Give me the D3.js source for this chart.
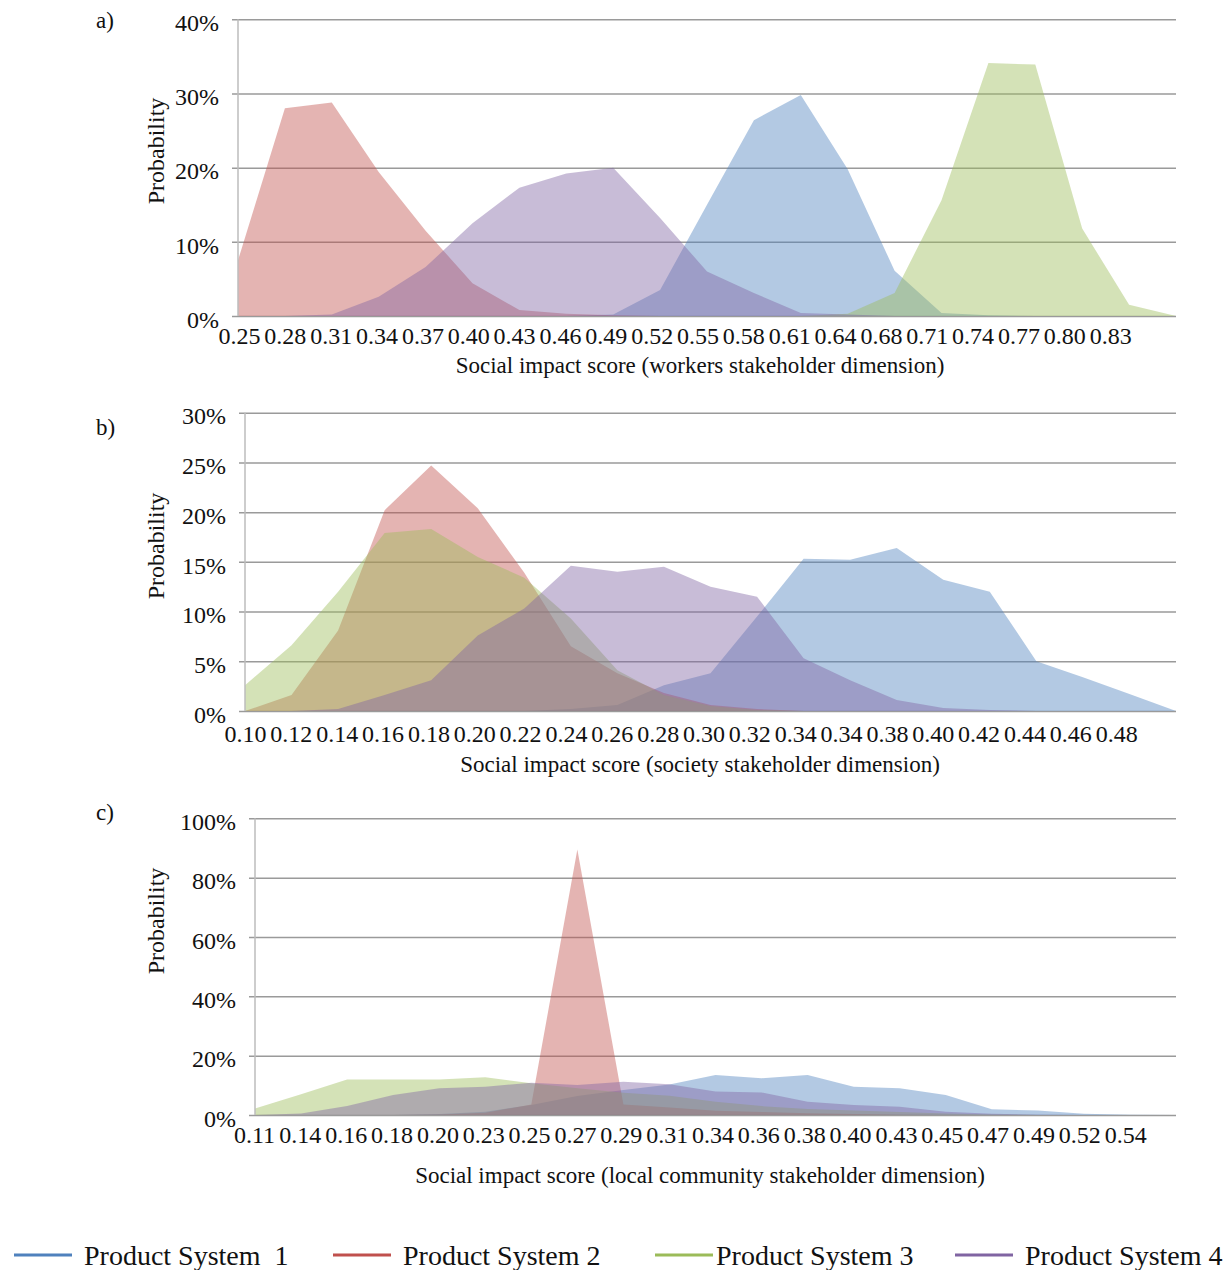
<!DOCTYPE html>
<html>
<head>
<meta charset="utf-8">
<script src="https://cdn.jsdelivr.net/npm/d3@7"></script>
<style>
  body { margin: 0; background: #fff; }
  svg text { font-family: "Liberation Serif", "Times New Roman", serif; fill: #111; }
</style>
</head>
<body>
<svg id="chart" width="1226" height="1270"></svg>
<script>
// ---- Series ----
const seriesNames  = ["Product System  1", "Product System 2", "Product System 3", "Product System 4"];
const seriesColors = ["#4F81BD", "#C0504D", "#9BBB59", "#8064A2"];

// ---- a) workers stakeholder dimension ----
const workersTicks = ["0.25","0.28","0.31","0.34","0.37","0.40","0.43","0.46","0.49","0.52",
                      "0.55","0.58","0.61","0.64","0.68","0.71","0.74","0.77","0.80","0.83"];
const workersPS1 = [0, 0, 0, 0, 0, 0, 0, 0, 0.2, 3.5, 15.0, 26.4, 29.8, 19.8, 6.1, 0.4, 0.1, 0, 0, 0, 0];
const workersPS2 = [7.5, 28.0, 28.8, 19.4, 11.5, 4.4, 0.8, 0.3, 0.1, 0, 0, 0, 0, 0, 0, 0, 0, 0, 0, 0, 0];
const workersPS3 = [0, 0, 0, 0, 0, 0, 0, 0, 0, 0, 0, 0, 0, 0.3, 3.1, 15.6, 34.1, 33.9, 11.8, 1.5, 0];
const workersPS4 = [0, 0, 0.2, 2.6, 6.6, 12.5, 17.3, 19.2, 20.0, 13.2, 6.0, 3.1, 0.4, 0.2, 0, 0, 0, 0, 0, 0, 0];
const workersYTicks = [0, 10, 20, 30, 40];

// ---- b) society stakeholder dimension ----
const societyTicks = ["0.10","0.12","0.14","0.16","0.18","0.20","0.22","0.24","0.26","0.28",
                      "0.30","0.32","0.34","0.34","0.38","0.40","0.42","0.44","0.46","0.48"];
const societyPS1 = [0, 0, 0, 0, 0, 0, 0, 0.2, 0.6, 2.6, 3.8, 9.5, 15.3, 15.2, 16.4, 13.2, 12.0, 5.0, 3.4, 1.7, 0];
const societyPS2 = [0, 1.6, 8.1, 20.2, 24.7, 20.4, 13.9, 6.5, 3.8, 1.8, 0.6, 0.2, 0, 0, 0, 0, 0, 0, 0, 0, 0];
const societyPS3 = [2.6, 6.6, 12.0, 17.9, 18.3, 15.5, 13.4, 9.3, 4.1, 1.6, 0.5, 0.1, 0, 0, 0, 0, 0, 0, 0, 0, 0];
const societyPS4 = [0, 0, 0.2, 1.6, 3.1, 7.6, 10.3, 14.6, 14.0, 14.5, 12.5, 11.5, 5.3, 3.1, 1.1, 0.3, 0.1, 0, 0, 0, 0];
const societyYTicks = [0, 5, 10, 15, 20, 25, 30];

// ---- c) local community stakeholder dimension ----
const communityTicks = ["0.11","0.14","0.16","0.18","0.20","0.23","0.25","0.27","0.29","0.31",
                        "0.34","0.36","0.38","0.40","0.43","0.45","0.47","0.49","0.52","0.54"];
const communityPS1 = [0, 0, 0, 0, 0.3, 1.1, 3.4, 6.4, 8.4, 10.3, 13.5, 12.4, 13.5, 9.5, 9.0, 6.7, 1.9, 1.5, 0.4, 0.1, 0];
const communityPS2 = [0, 0, 0, 0, 0.2, 0.8, 3.5, 89.5, 3.5, 2.5, 1.4, 1.0, 0.6, 0.3, 0.1, 0, 0, 0, 0, 0, 0];
const communityPS3 = [2.2, 7.0, 12.0, 12.0, 12.0, 12.7, 10.7, 9.0, 7.5, 6.5, 4.5, 3.0, 2.0, 1.5, 1.0, 0.5, 0.2, 0, 0, 0, 0];
const communityPS4 = [0, 0.5, 3.0, 6.7, 9.0, 9.5, 10.9, 10.1, 11.2, 10.4, 7.9, 7.6, 4.5, 3.4, 2.8, 1.1, 0.4, 0.1, 0, 0, 0];
const communityYTicks = [0, 20, 40, 60, 80, 100];

// ---- Layout ----
const LABEL_STEP = 45.85;   // spacing of the category labels
const FILL_OPACITY = 0.43;

const panels = [
  { letter: "a)", title: "Social impact score (workers stakeholder dimension)",
    ticks: workersTicks, series: [workersPS1, workersPS2, workersPS3, workersPS4], yTicks: workersYTicks,
    x0: 238, x1: 1176, yTop: 19.3, yBot: 316, labelX0: 239, labelDy: 28, titleY: 373,
    letterY: 28, probY: 151 },
  { letter: "b)", title: "Social impact score (society stakeholder dimension)",
    ticks: societyTicks, series: [societyPS1, societyPS2, societyPS3, societyPS4], yTicks: societyYTicks,
    x0: 245, x1: 1176, yTop: 412.7, yBot: 711, labelX0: 245, labelDy: 31, titleY: 772,
    letterY: 435, probY: 546 },
  { letter: "c)", title: "Social impact score (local community stakeholder dimension)",
    ticks: communityTicks, series: [communityPS1, communityPS2, communityPS3, communityPS4], yTicks: communityYTicks,
    x0: 255, x1: 1176, yTop: 818.3, yBot: 1115, labelX0: 254, labelDy: 28, titleY: 1183,
    letterY: 820, probY: 921 }
];

const svg = d3.select("#chart");
svg.append("rect").attr("width", 1226).attr("height", 1270).attr("fill", "#fff");

panels.forEach(p => {
  const n = p.series[0].length;
  const x = d3.scalePoint().domain(d3.range(n)).range([p.x0, p.x1]);
  const y = d3.scaleLinear().domain([0, d3.max(p.yTicks)]).range([p.yBot, p.yTop]);
  const g = svg.append("g");

  // horizontal gridlines with left tick stubs and percentage labels
  const yAxis = d3.axisLeft(y)
    .tickValues(p.yTicks)
    .tickFormat(d => d + "%")
    .tickSize(-(p.x1 - p.x0 + 6))
    .tickPadding(13);
  const yg = g.append("g")
    .attr("transform", `translate(${p.x0 - 6},0)`)
    .call(yAxis);
  yg.select(".domain").remove();
  yg.selectAll(".tick line").attr("stroke", "#9a9a9a").attr("stroke-width", 1.5);
  yg.selectAll(".tick text")
    .attr("font-size", 24).attr("font-family", null)
    .attr("y", 3.5).attr("fill", "#111");
  yg.attr("font-family", null).attr("font-size", null);

  // translucent distribution areas
  const area = d3.area()
    .x((d, i) => x(i))
    .y0(y(0))
    .y1(d => y(d));
  g.selectAll("path.area")
    .data(p.series)
    .join("path")
    .attr("class", "area")
    .attr("d", area)
    .attr("fill", (d, i) => seriesColors[i])
    .attr("fill-opacity", FILL_OPACITY);

  // vertical value axis line
  g.append("line")
    .attr("x1", p.x0).attr("x2", p.x0)
    .attr("y1", p.yTop).attr("y2", p.yBot)
    .attr("stroke", "#bdbdbd").attr("stroke-width", 1.5);

  // category labels
  const lx = d3.scalePoint()
    .domain(d3.range(p.ticks.length))
    .range([p.labelX0, p.labelX0 + LABEL_STEP * (p.ticks.length - 1)]);
  const xg = g.append("g")
    .attr("transform", `translate(0,${p.yBot + p.labelDy})`)
    .call(d3.axisBottom(lx).tickSize(0).tickPadding(0).tickFormat(i => p.ticks[i]));
  xg.select(".domain").remove();
  xg.attr("font-family", null).attr("font-size", null);
  xg.selectAll(".tick text").attr("dy", 0).attr("font-size", 24).attr("fill", "#111");

  // axis titles
  g.append("text")
    .attr("x", 700).attr("y", p.titleY)
    .attr("text-anchor", "middle")
    .attr("font-size", 23)
    .text(p.title);

  g.append("text")
    .attr("transform", `translate(164,${p.probY}) rotate(-90)`)
    .attr("text-anchor", "middle")
    .attr("font-size", 24)
    .text("Probability");

  g.append("text")
    .attr("x", 96).attr("y", p.letterY)
    .attr("font-size", 23)
    .text(p.letter);
});

// ---- Legend ----
const legendX = [14, 333, 655, 955];
const legendY = 1255;
const lg = svg.append("g");
const items = lg.selectAll("g.item")
  .data(seriesNames)
  .join("g")
  .attr("class", "item")
  .attr("transform", (d, i) => `translate(${legendX[i]},${legendY})`);
items.append("line")
  .attr("x1", 0).attr("x2", 58)
  .attr("stroke", (d, i) => seriesColors[i])
  .attr("stroke-width", 3);
items.append("text")
  .attr("x", (d, i) => i === 2 ? 61 : (i === 0 ? 70 : 70))
  .attr("y", 10)
  .attr("font-size", 28)
  .style("white-space", "pre")
  .text(d => d);
</script>
</body>
</html>
